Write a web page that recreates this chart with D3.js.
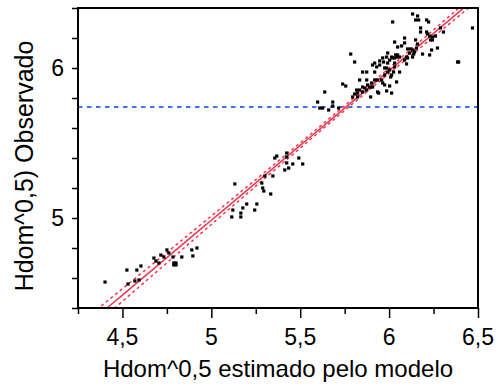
<!DOCTYPE html>
<html>
<head>
<meta charset="utf-8">
<script src="https://cdn.jsdelivr.net/npm/d3@7"></script>
<style>
  body { margin: 0; background: #fff; }
  svg { display: block; }
  text { font-family: "Liberation Sans", Arial, sans-serif; fill: #000; }
</style>
</head>
<body>
<svg id="chart"></svg>
<script>
// lower cluster
const xLow = [4.402,4.525,4.581,4.604,4.531,4.570,4.593,4.677,4.688,4.705,4.716,4.733,4.750,4.761,4.784,4.789,4.801,4.789,4.801,4.834,4.890,4.896,4.919];
const yLow = [4.573,4.653,4.653,4.680,4.560,4.580,4.587,4.733,4.713,4.700,4.753,4.740,4.787,4.767,4.740,4.700,4.700,4.687,4.687,4.740,4.787,4.747,4.800];
// middle
const xMid = [5.132,5.115,5.121,5.166,5.166,5.177,5.199,5.256,5.244,5.284,5.289,5.295,5.301,5.334,5.346,5.357,5.368,5.413,5.424,5.424,5.424,5.435,5.458,5.492,5.514,
  5.598,5.610,5.626,5.660,5.683,5.683,5.716,5.638,5.739,5.756,5.784,5.806];
const yMid = [5.227,5.007,5.053,5.007,5.033,5.067,5.093,5.093,5.053,5.233,5.200,5.180,5.280,5.160,5.280,5.400,5.413,5.320,5.433,5.407,5.367,5.333,5.360,5.400,5.360,
  5.773,5.733,5.733,5.720,5.773,5.747,5.733,5.840,5.893,5.880,6.093,6.040];
// upper cluster
const xUp = [5.795,5.806,5.817,5.823,5.834,5.823,5.834,5.851,5.874,5.851,
  5.862,5.874,5.851,5.896,5.890,5.902,5.879,5.874,5.907,5.919,
  5.930,5.907,5.919,5.919,5.935,5.958,5.964,5.941,5.935,5.947,
  5.964,5.947,5.969,5.986,5.975,6.003,5.986,6.014,5.975,5.975,
  5.992,6.003,6.020,6.031,6.042,5.992,6.014,6.037,5.986,5.992,
  6.003,6.009,6.014,6.025,6.031,6.042,6.059,6.020,6.031,6.048,
  6.070,6.048,6.059,6.031,6.087,6.087,6.098,6.087,6.098,6.104,
  6.104,6.115,6.121,6.132,6.138,6.132,6.132,6.160,6.149,6.166,
  6.177,6.177,6.149,6.160,6.154,6.143,6.188,6.211,6.222,6.211,
  6.216,6.233,6.244,6.261,6.228,6.244,6.239,6.228,6.272,6.289,
  6.306,6.469,6.385,6.391];
const yUp = [5.807,5.827,5.853,5.833,5.853,5.807,5.920,5.973,5.973,5.840,
  5.867,5.853,5.873,5.807,5.873,5.900,5.887,5.920,5.873,6.033,
  6.007,6.020,5.973,5.920,5.920,5.920,5.900,5.833,5.840,6.047,
  6.067,6.020,6.040,6.073,5.887,5.880,5.847,5.833,6.000,5.953,
  6.033,6.053,6.067,6.067,6.073,6.100,6.073,6.087,6.000,5.973,
  5.987,5.940,5.953,5.973,6.007,5.907,5.973,6.307,6.173,6.140,
  6.147,6.087,6.073,6.033,6.200,6.167,6.073,6.053,6.027,6.067,
  6.127,6.100,6.127,6.120,6.093,6.073,6.360,6.347,6.320,6.320,
  6.267,6.240,6.187,6.160,6.133,6.107,6.093,6.320,6.307,6.240,
  6.227,6.187,6.207,6.213,6.213,6.187,6.120,6.087,6.133,6.267,
  6.240,6.267,6.040,6.040];

const meanObserved = 5.74; // blue dashed line (mean of Y)
const fitIntercept = 0.0;
const fitSlope = 0.997;

const xTicks = [4.5, 5, 5.5, 6, 6.5];
const xTickLabels = ["4,5", "5", "5,5", "6", "6,5"];
const yTicks = [5, 6];
const yTickLabels = ["5", "6"];
const xTitle = "Hdom^0,5 estimado pelo modelo";
const yTitle = "Hdom^0,5) Observado";

const width = 498;
const height = 388;
const margin = { top: 8, right: 20, bottom: 80, left: 78 };

const xs = xLow.concat(xMid, xUp);
const ys = yLow.concat(yMid, yUp);
const points = xs.map((x, i) => ({ x: x, y: ys[i] }));

const x = d3.scaleLinear().domain([4.25, 6.5]).range([margin.left, width - margin.right]);
const y = d3.scaleLinear().domain([4.4, 6.4]).range([height - margin.bottom, margin.top]);

// confidence curves around the fit
const n = xs.length;
const mx = d3.mean(xs);
const sxx = d3.sum(xs, (v) => (v - mx) ** 2);
const fit = (v) => fitIntercept + fitSlope * v;
const sres = Math.sqrt(d3.sum(xs, (v, i) => (ys[i] - fit(v)) ** 2) / (n - 2));
const half = (v) => 1.97 * sres * Math.sqrt(1 / n + (v - mx) ** 2 / sxx);

const svg = d3.select("#chart").attr("width", width).attr("height", height);

svg.append("defs").append("clipPath").attr("id", "clip")
  .append("rect")
  .attr("x", margin.left).attr("y", margin.top)
  .attr("width", width - margin.left - margin.right)
  .attr("height", height - margin.top - margin.bottom);

const plot = svg.append("g").attr("clip-path", "url(#clip)");

// mean line
plot.append("line")
  .attr("x1", x(4.25)).attr("x2", x(6.5))
  .attr("y1", y(meanObserved)).attr("y2", y(meanObserved))
  .attr("stroke", "#3f74ee")
  .attr("stroke-width", 2)
  .attr("stroke-dasharray", "4.5,4.5");

const xs2 = d3.range(4.25, 6.501, 0.01);
const line = d3.line().x((d) => x(d[0])).y((d) => y(d[1]));

plot.append("path")
  .attr("d", line(xs2.map((v) => [v, fit(v) + half(v)])))
  .attr("fill", "none").attr("stroke", "#ee3a50")
  .attr("stroke-width", 1.5).attr("stroke-dasharray", "3,3");
plot.append("path")
  .attr("d", line(xs2.map((v) => [v, fit(v) - half(v)])))
  .attr("fill", "none").attr("stroke", "#ee3a50")
  .attr("stroke-width", 1.5).attr("stroke-dasharray", "3,3");
plot.append("path")
  .attr("d", line(xs2.map((v) => [v, fit(v)])))
  .attr("fill", "none").attr("stroke", "#ee3a50")
  .attr("stroke-width", 1.6);

// points
plot.append("g")
  .selectAll("rect")
  .data(points)
  .join("rect")
  .attr("x", (d) => x(d.x) - 1.6)
  .attr("y", (d) => y(d.y) - 1.6)
  .attr("width", 3.2)
  .attr("height", 3.2)
  .attr("fill", "#000");

// x axis
const xAxis = svg.append("g")
  .attr("transform", `translate(0,${height - margin.bottom})`)
  .call(d3.axisBottom(x)
    .tickValues(d3.range(4.25, 6.51, 0.25))
    .tickSize(6)
    .tickFormat(""));
xAxis.select(".domain").remove();
xAxis.selectAll(".tick line").attr("stroke", "#000").attr("stroke-width", 1.5)
  .attr("y2", (d) => (xTicks.some((t) => Math.abs(t - d) < 1e-6) ? 10 : 6));

svg.append("g").selectAll("text")
  .data(xTicks)
  .join("text")
  .attr("x", (d) => x(d))
  .attr("y", height - margin.bottom + 37)
  .attr("text-anchor", "middle")
  .style("font-size", "23px")
  .text((d, i) => xTickLabels[i]);

// y axis
const yAxis = svg.append("g")
  .attr("transform", `translate(${margin.left},0)`)
  .call(d3.axisLeft(y)
    .tickValues(d3.range(4.4, 6.41, 0.2))
    .tickSize(6)
    .tickFormat(""));
yAxis.select(".domain").remove();
yAxis.selectAll(".tick line").attr("stroke", "#000").attr("stroke-width", 1.5);

svg.append("g").selectAll("text")
  .data(yTicks)
  .join("text")
  .attr("x", margin.left - 14)
  .attr("y", (d) => y(d))
  .attr("dy", "0.35em")
  .attr("text-anchor", "end")
  .style("font-size", "23px")
  .text((d, i) => yTickLabels[i]);

// frame
svg.append("rect")
  .attr("x", margin.left).attr("y", margin.top)
  .attr("width", width - margin.left - margin.right)
  .attr("height", height - margin.top - margin.bottom)
  .attr("fill", "none")
  .attr("stroke", "#000")
  .attr("stroke-width", 2);

// titles
svg.append("text")
  .attr("x", 278)
  .attr("y", height - 11)
  .attr("text-anchor", "middle")
  .style("font-size", "24px")
  .text(xTitle);

svg.append("text")
  .attr("transform", `translate(33,166) rotate(-90)`)
  .attr("text-anchor", "middle")
  .style("font-size", "25px")
  .text(yTitle);
</script>
</body>
</html>
